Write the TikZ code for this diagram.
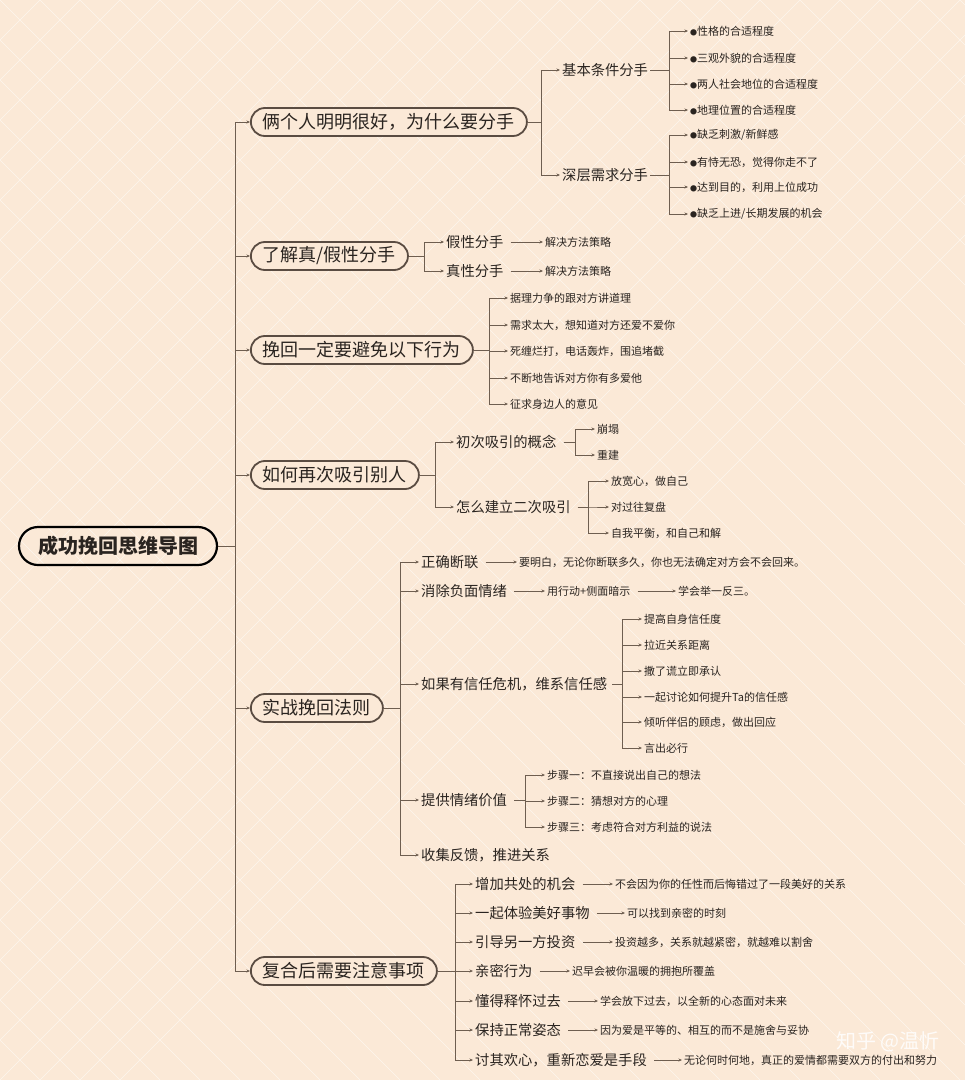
\documentclass[tikz,border=0pt]{standalone}
\usepackage{fontspec}
\setmainfont{Noto Sans CJK SC}
\usetikzlibrary{arrows.meta}
\definecolor{bg}{HTML}{FBE9D7}
\definecolor{ln}{HTML}{6E5E50}
\definecolor{bd}{HTML}{5A4C42}
\definecolor{tx}{HTML}{2A2420}
\newcommand{\bul}{{\fontsize{7}{7}\selectfont ●}}
\tikzset{
 x=1pt,y=-1pt,
 conn/.style={draw=ln,line width=0.8pt,-{Stealth[length=3.5pt,width=3pt]}},
 root/.style={draw=black,line width=2.2pt,rounded corners=19pt,minimum height=38pt,inner xsep=19pt,font=\fontsize{20}{20}\selectfont\bfseries,text=tx},
 lone/.style={draw=bd,line width=1.8pt,rounded corners=14pt,minimum height=28pt,inner xsep=12pt,font=\fontsize{18}{18}\selectfont,text=tx,anchor=west,fill=bg},
 ltwo/.style={anchor=west,inner sep=2pt,font=\fontsize{14.3}{14.3}\selectfont,text=tx},
 lthr/.style={anchor=west,inner sep=2pt,font=\fontsize{11}{11}\selectfont,text=tx},
}
\begin{document}
\begin{tikzpicture}
\fill[bg] (0,0) rectangle (965,1080);
\useasboundingbox (0,0) rectangle (965,1080);
\begin{scope}
\clip (0,0) rectangle (965,1080);
\foreach \i in {-30,...,30}{
 \draw[white!60!bg,line width=0.6pt] (\i*40,0) -- ++(1080,1080);
 \draw[white!60!bg,line width=0.6pt] (\i*40,0) -- ++(-1080,1080);
}
\end{scope}
% root
\node[root] (r) at (118,546) {成功挽回思维导图};
\coordinate (t0) at (235,0);
\node[lone] (a) at (250,122) {俩个人明明很好，为什么要分手};
\node[lone] (b) at (250,256) {了解真/假性分手};
\node[lone] (c) at (250,350) {挽回一定要避免以下行为};
\node[lone] (d) at (250,475) {如何再次吸引别人};
\node[lone] (e) at (250,708) {实战挽回法则};
\node[lone] (f) at (250,971) {复合后需要注意事项};
\foreach \n in {a,b,c,d,e,f}{\draw[conn] (r.east) -- (r.east -| t0) |- (\n.west);}
% group a
\coordinate (ta) at (541,0);
\node[ltwo] (a1) at (560,70) {基本条件分手};
\node[ltwo] (a2) at (560,175) {深层需求分手};
\foreach \n in {a1,a2}{\draw[conn] (a.east) -- (a.east -| ta) |- (\n.west);}
\coordinate (ta1) at (669,0);
\node[lthr] (a11) at (688,31) {\bul 性格的合适程度};
\node[lthr] (a12) at (688,58) {\bul 三观外貌的合适程度};
\node[lthr] (a13) at (688,84) {\bul 两人社会地位的合适程度};
\node[lthr] (a14) at (688,110) {\bul 地理位置的合适程度};
\foreach \n in {a11,a12,a13,a14}{\draw[conn] (a1.east) -- (a1.east -| ta1) |- (\n.west);}
\node[lthr] (a21) at (688,135) {\bul 缺乏刺激/新鲜感};
\node[lthr] (a22) at (688,162) {\bul 有恃无恐，觉得你走不了};
\node[lthr] (a23) at (688,187) {\bul 达到目的，利用上位成功};
\node[lthr] (a24) at (688,214) {\bul 缺乏上进/长期发展的机会};
\foreach \n in {a21,a22,a23,a24}{\draw[conn] (a2.east) -- (a2.east -| ta1) |- (\n.west);}
% group b
\coordinate (tb) at (424,0);
\node[ltwo] (b1) at (444,242) {假性分手};
\node[ltwo] (b2) at (444,271) {真性分手};
\foreach \n in {b1,b2}{\draw[conn] (b.east) -- (b.east -| tb) |- (\n.west);}
\node[lthr] (b11) at (543,242) {解决方法策略};
\node[lthr] (b21) at (543,271) {解决方法策略};
\draw[conn] ([xshift=5pt]b1.east) -- (b11.west);
\draw[conn] ([xshift=5pt]b2.east) -- (b21.west);
% group c
\coordinate (tc) at (489,0);
\node[lthr] (c1) at (508,298) {据理力争的跟对方讲道理};
\node[lthr] (c2) at (508,325) {需求太大，想知道对方还爱不爱你};
\node[lthr] (c3) at (508,351) {死缠烂打，电话轰炸，围追堵截};
\node[lthr] (c4) at (508,378) {不断地告诉对方你有多爱他};
\node[lthr] (c5) at (508,404) {征求身边人的意见};
\foreach \n in {c1,c2,c3,c4,c5}{\draw[conn] (c.east) -- (c.east -| tc) |- (\n.west);}
% group d
\coordinate (td) at (435,0);
\node[ltwo] (d1) at (454,442) {初次吸引的概念};
\node[ltwo] (d2) at (454,507) {怎么建立二次吸引};
\foreach \n in {d1,d2}{\draw[conn] (d.east) -- (d.east -| td) |- (\n.west);}
\coordinate (td1) at (575,0);
\node[lthr] (d11) at (595,429) {崩塌};
\node[lthr] (d12) at (595,455) {重建};
\foreach \n in {d11,d12}{\draw[conn] ([xshift=5pt]d1.east) -- (d1.east -| td1) |- (\n.west);}
\coordinate (td2) at (588,0);
\node[lthr] (d21) at (609,481) {放宽心，做自己};
\node[lthr] (d22) at (609,507) {对过往复盘};
\node[lthr] (d23) at (609,533) {自我平衡，和自己和解};
\foreach \n in {d21,d22,d23}{\draw[conn] ([xshift=5pt]d2.east) -- (d2.east -| td2) |- (\n.west);}
% group e
\coordinate (te) at (400,0);
\node[ltwo] (e1) at (419,562) {正确断联};
\node[ltwo] (e2) at (419,591) {消除负面情绪};
\node[ltwo] (e3) at (419,684) {如果有信任危机，维系信任感};
\node[ltwo] (e4) at (419,800) {提供情绪价值};
\node[ltwo] (e5) at (419,855) {收集反馈，推进关系};
\foreach \n in {e1,e2,e3,e4,e5}{\draw[conn] (e.east) -- (e.east -| te) |- (\n.west);}
\node[lthr] (e11) at (517,562) {要明白，无论你断联多久，你也无法确定对方会不会回来。};
\draw[conn] ([xshift=5pt]e1.east) -- (e11.west);
\node[lthr] (e21) at (545,591) {用行动+侧面暗示};
\node[lthr] (e22) at (676,591) {学会举一反三。};
\draw[conn] ([xshift=5pt]e2.east) -- (e21.west);
\draw[conn] ([xshift=5pt]e21.east) -- (e22.west);
\coordinate (te3) at (622,0);
\node[lthr] (e31) at (642,619) {提高自身信任度};
\node[lthr] (e32) at (642,645) {拉近关系距离};
\node[lthr] (e33) at (642,671) {撒了谎立即承认};
\node[lthr] (e34) at (642,697) {一起讨论如何提升Ta的信任感};
\node[lthr] (e35) at (642,722) {倾听伴侣的顾虑，做出回应};
\node[lthr] (e36) at (642,748) {言出必行};
\foreach \n in {e31,e32,e33,e34,e35,e36}{\draw[conn] ([xshift=3pt]e3.east) -- (e3.east -| te3) |- (\n.west);}
\coordinate (te4) at (525,0);
\node[lthr] (e41) at (545,775) {步骤一：不直接说出自己的想法};
\node[lthr] (e42) at (545,801) {步骤二：猜想对方的心理};
\node[lthr] (e43) at (545,827) {步骤三：考虑符合对方利益的说法};
\foreach \n in {e41,e42,e43}{\draw[conn] ([xshift=5pt]e4.east) -- (e4.east -| te4) |- (\n.west);}
% group f
\coordinate (tf) at (455,0);
\node[ltwo] (f1) at (473,884) {增加共处的机会};
\node[ltwo] (f2) at (473,913) {一起体验美好事物};
\node[ltwo] (f3) at (473,942) {引导另一方投资};
\node[ltwo] (f4) at (473,971) {亲密行为};
\node[ltwo] (f5) at (473,1001) {懂得释怀过去};
\node[ltwo] (f6) at (473,1030) {保持正常姿态};
\node[ltwo] (f7) at (473,1060) {讨其欢心，重新恋爱是手段};
\foreach \n in {f1,f2,f3,f4,f5,f6,f7}{\draw[conn] (f.east) -- (f.east -| tf) |- (\n.west);}
\node[lthr] (g1) at (613,884) {不会因为你的任性而后悔错过了一段美好的关系};
\node[lthr] (g2) at (625,913) {可以找到亲密的时刻};
\node[lthr] (g3) at (613,942) {投资越多，关系就越紧密，就越难以割舍};
\node[lthr] (g4) at (570,971) {迟早会被你温暖的拥抱所覆盖};
\node[lthr] (g5) at (598,1001) {学会放下过去，以全新的心态面对未来};
\node[lthr] (g6) at (598,1030) {因为爱是平等的、相互的而不是施舍与妥协};
\node[lthr] (g7) at (682,1060) {无论何时何地，真正的爱情都需要双方的付出和努力};
\foreach \i in {1,...,7}{\draw[conn] ([xshift=5pt]f\i.east) -- (g\i.west);}
\node[font=\fontsize{20}{20}\selectfont,text=white,opacity=0.85] (wm) at (888,1042) {知乎 @温忻};
\end{tikzpicture}
\end{document}
